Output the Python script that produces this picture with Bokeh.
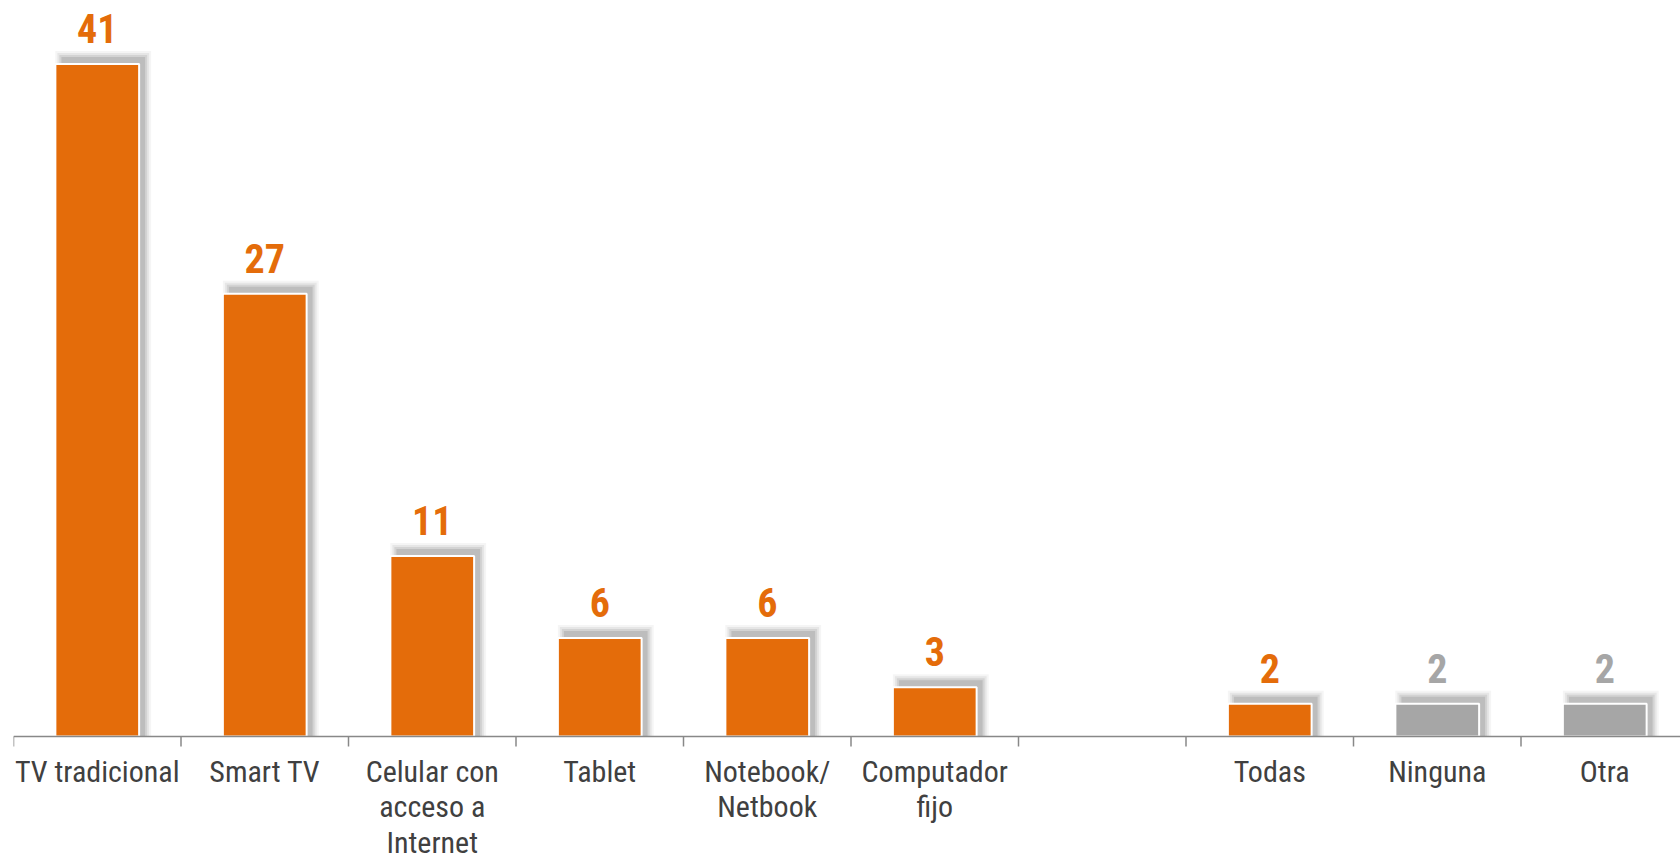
from bokeh.plotting import figure
from bokeh.models import Range1d, ColumnDataSource
from bokeh.core.properties import value
from bokeh.embed import file_html
from bokeh.resources import INLINE

# Category slots (the empty string is the gap slot between the two groups)
categories = ["TV tradicional", "Smart TV", "Celular con\nacceso a\nInternet", "Tablet",
              "Notebook/\nNetbook", "Computador\nfijo", "", "Todas", "Ninguna", "Otra"]
values = [41, 27, 11, 6, 6, 3, None, 2, 2, 2]
bar_colors = ["#E46C0A", "#E46C0A", "#E46C0A", "#E46C0A", "#E46C0A", "#E46C0A", None,
              "#E46C0A", "#A6A6A6", "#A6A6A6"]

FONT = "Liberation Sans Narrow, Arial Narrow, Roboto Condensed, sans-serif"
W, H = 1680, 861
LEFT = 13
AXIS_Y_PX = 736          # axis position from top of figure
SLOT_PX = 167.5
UNIT_PX = 16.4
frame_w = W - LEFT
x_end = frame_w / SLOT_PX
y_end = AXIS_Y_PX / UNIT_PX
y_start = -(H - AXIS_Y_PX) / UNIT_PX

p = figure(width=W, height=H, x_range=Range1d(0, x_end), y_range=Range1d(y_start, y_end),
           output_backend="svg", toolbar_location=None, y_axis_location=None,
           x_axis_location=None,
           min_border_left=LEFT, min_border_right=0, min_border_top=0,
           min_border_bottom=0)
p.grid.visible = False
p.outline_line_color = None
p.background_fill_color = "white"
p.border_fill_color = "white"

xs, tops, cols = [], [], []
for i, (v, c) in enumerate(zip(values, bar_colors)):
    if v is None:
        continue
    xs.append(i + 0.5)
    tops.append(v)
    cols.append(c)
src = ColumnDataSource(dict(x=xs, top=tops, color=cols, label=[str(v) for v in tops]))

# soft shadow (offset up-right, blurred with layers)
half = 0.25
dxp, dyp = 5, 6
for k, a in [(7, 0.05), (5, 0.08), (3, 0.11), (1, 0.15)]:
    sx = [x - half + (dxp - k + 2) / SLOT_PX for x in xs]
    ex = [x + half + (dxp + k) / SLOT_PX for x in xs]
    st = [t + (dyp + k) / UNIT_PX for t in tops]
    p.quad(left=sx, right=ex, top=st, bottom=[0] * len(xs),
           fill_color="#404040", fill_alpha=a, line_color=None)

p.vbar(x="x", top="top", width=0.5, bottom=0, source=src, fill_color="color",
       line_color="white", line_width=2)

p.text(x="x", y="top", text="label", source=src, text_color="color",
       text_align="center", text_baseline="bottom", y_offset=-21,
       text_font=value(FONT), text_font_style="bold", text_font_size="40px")

# category axis: baseline, boundary ticks and labels
n = len(categories)
p.segment(x0=[0], y0=[0], x1=[n], y1=[0], line_color="#888888", line_width=1.5)
bounds = list(range(n + 1))
p.segment(x0=bounds, y0=[0] * len(bounds), x1=bounds, y1=[-10 / UNIT_PX] * len(bounds),
          line_color="#888888", line_width=1.5)
p.text(x=[i + 0.5 for i in range(n)], y=[0] * n, text=categories,
       text_align="center", text_baseline="top", y_offset=17,
       text_font=value(FONT), text_font_size="30px", text_color="#404040",
       text_line_height=1.02)

open("out.html", "w").write(file_html(p, INLINE))
